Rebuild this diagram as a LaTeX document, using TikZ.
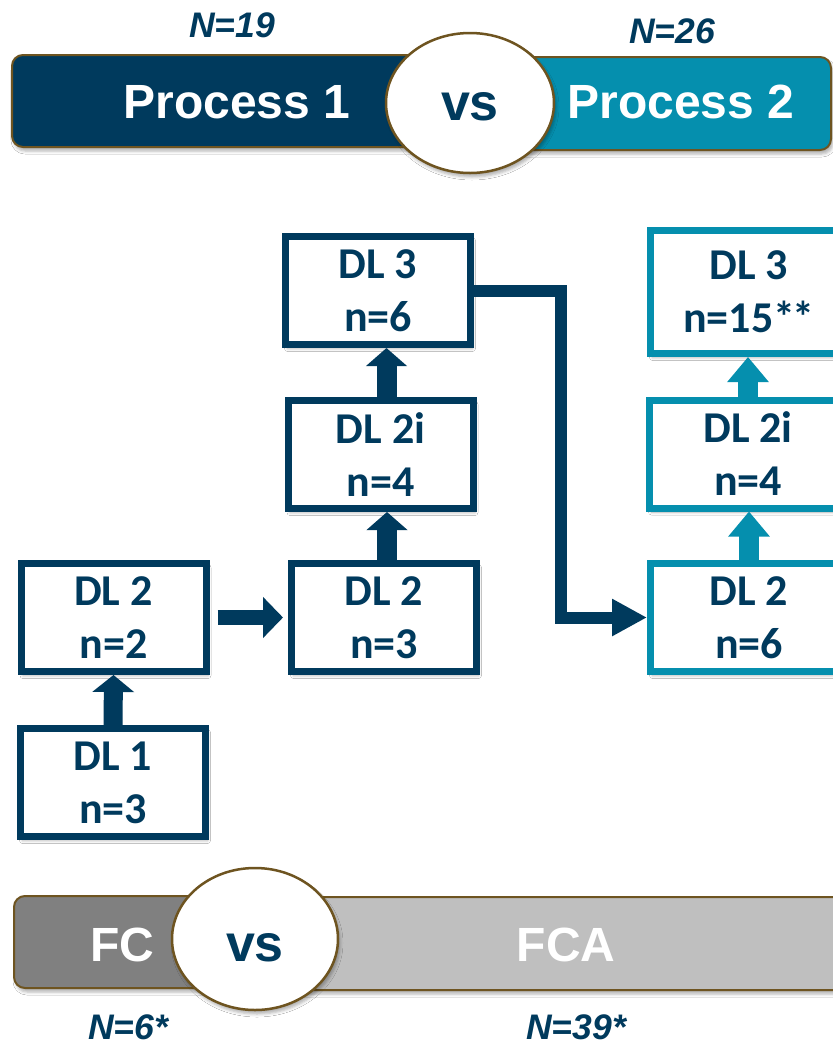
\documentclass[tikz,border=0pt]{standalone}
\usepackage{fontspec}
\setmainfont{Liberation Sans}
\newfontfamily\calfont{Carlito}
\usetikzlibrary{arrows.meta,shadows.blur,shapes.geometric,calc}
\definecolor{navy}{HTML}{003A5D}
\definecolor{tealc}{HTML}{058FAE}
\definecolor{dgray}{HTML}{808080}
\definecolor{lgray}{HTML}{BFBFBF}
\definecolor{brownb}{HTML}{6E5420}
\begin{document}
\begin{tikzpicture}[x=1pt,y=-1pt,
  shad/.style={blur shadow={shadow xshift=2pt,shadow yshift=-4pt,shadow opacity=30,shadow blur radius=3pt}},
  bar/.style={draw=brownb,line width=2pt,rounded corners=11pt,shad},
  vscirc/.style={ellipse,draw=brownb,line width=2.5pt,fill=white,minimum width=168pt,minimum height=140pt,inner sep=0pt,shad},
  vstext/.style={font=\bfseries\fontsize{52}{60}\selectfont,text=navy,inner sep=0pt},
  title/.style={font=\bfseries\fontsize{48}{58}\selectfont,text=white,inner sep=0pt},
  count/.style={font=\bfseries\itshape\fontsize{35.5}{42}\selectfont,text=navy,inner sep=0pt},
  box/.style={draw=navy,line width=7pt,fill=white,minimum width=185pt,minimum height=108pt,inner sep=0pt,align=center,text=navy,font=\calfont\bfseries\fontsize{44}{53}\selectfont,shad},
  tbox/.style={box,draw=tealc,minimum width=197pt},
  blk/.style={line width=#1,draw=navy},
]
\clip (0,0) rectangle (833,1045);
\fill[white] (0,0) rectangle (833,1045);

% ---------- top header ----------
\path[bar,fill=navy] (12,55) rectangle (480,147);
\path[bar,fill=tealc] (460,57) rectangle (831,150);
\node[vscirc] (c1) at (470,103) {};
\node[vstext] (vs1) at (470,107) {vs};
\node[title] (p1t) at (237,102) {Process 1};
\node[title] (p2t) at (681,102) {Process 2};
\node[count] (n19) at (232,25) {N=19};
\node[count] (n26) at (672,31) {N=26};

% ---------- process 1 boxes ----------
\node[box] (a1) at (113,782.5) {DL 1\\n=3};
\node[box] (a2) at (113.5,617.5) {DL 2\\n=2};
\node[box] (b2) at (384,617.5) {DL 2\\n=3};
\node[box] (b2i) at (380.5,454.5) {DL 2i\\n=4};
\node[box] (b3) at (378,290.5) {DL 3\\n=6};

% ---------- process 2 boxes ----------
\node[tbox] (c2) at (749,617.5) {DL 2\\n=6};
\node[tbox] (c2i) at (748,454) {DL 2i\\n=4};
\node[tbox,minimum height=123pt] (c3) at (749,292) {DL 3\\n=15*\kern-0.06em*};

% ---------- arrows ----------
\draw[blk=19pt,-{Triangle[width=41pt,length=17pt]}] (a1.north) -- (a2.south);
\draw[blk=15pt,-{Triangle[width=40pt,length=20pt]},shorten <=8pt,shorten >=5pt] (a2.east) -- (b2.west);
\draw[blk=20pt,-{Triangle[width=40pt,length=18pt]}] ([xshift=3pt]b2.north) -- ([xshift=3pt]b2.north |- b2i.south);
\draw[blk=20pt,-{Triangle[width=40pt,length=18pt]}] ([xshift=6pt]b2i.north) -- ([xshift=6pt]b2i.north |- b3.south);
\draw[line width=20pt,draw=tealc,-{Triangle[width=40pt,length=25pt]}] (c2.north) -- (c2.north |- c2i.south);
\draw[line width=20pt,draw=tealc,-{Triangle[width=40pt,length=25pt]}] (c2i.north) -- (c2i.north |- c3.south);
\coordinate (bend) at (561,0);
\draw[blk=12pt,-{Triangle[width=35pt,length=35pt]}] (b3.east) -- (b3.east -| bend) |- (c2.west);

% ---------- bottom header ----------
\path[bar,fill=lgray] (240,897) rectangle (860,990);
\path[bar,fill=dgray] (14,896) rectangle (270,988);
\node[vscirc,minimum width=166pt,minimum height=142pt] (c4) at (255,939) {};
\node[vstext] (vs2) at (255,948) {vs};
\node[title] (fc) at (122,945) {FC};
\node[title] (fca) at (566,945) {FCA};
\node[count] (n6) at (128,1027) {N=6*};
\node[count] (n39) at (576,1027) {N=39*};
\end{tikzpicture}
\end{document}
